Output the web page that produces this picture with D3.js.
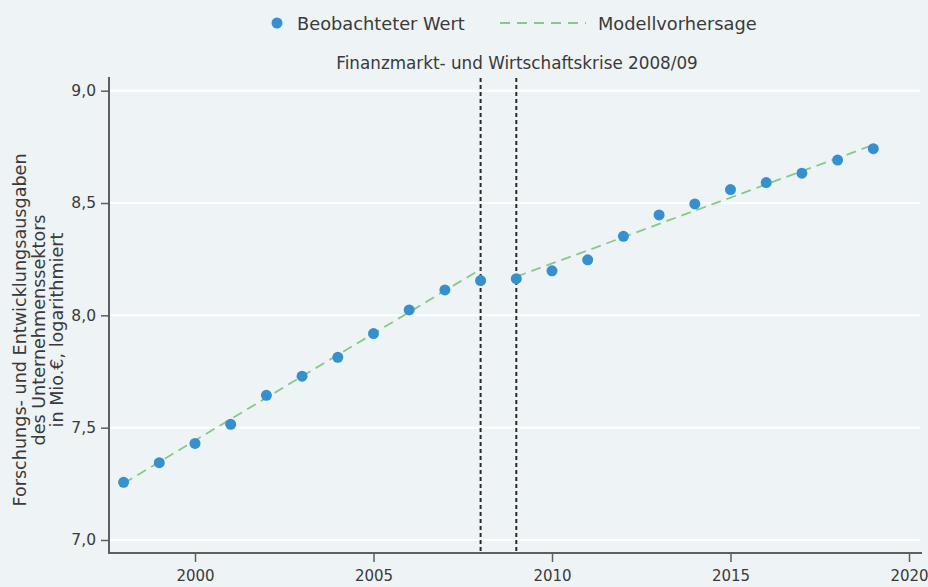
<!DOCTYPE html>
<html>
<head>
<meta charset="utf-8">
<script src="https://cdn.jsdelivr.net/npm/d3@7"></script>
<style>
  html, body { margin: 0; padding: 0; background: #eef3f5; }
  svg { display: block; font-family: "DejaVu Sans", sans-serif; }
</style>
</head>
<body>
<svg id="chart" width="928" height="587"></svg>
<script>
// Beobachtete Werte (Forschungs- und Entwicklungsausgaben, log)
const years = [1998, 1999, 2000, 2001, 2002, 2003, 2004, 2005, 2006, 2007, 2008,
               2009, 2010, 2011, 2012, 2013, 2014, 2015, 2016, 2017, 2018, 2019];
const observed = [7.257, 7.344, 7.430, 7.515, 7.644, 7.729, 7.813, 7.919, 8.024, 8.113, 8.155,
                  8.163, 8.198, 8.247, 8.352, 8.447, 8.496, 8.560, 8.591, 8.633, 8.691, 8.742];

// Modellvorhersage, zwei Abschnitte (vor und nach der Krise)
const modelYearsPre = [1998, 1999, 2000, 2001, 2002, 2003, 2004, 2005, 2006, 2007, 2008];
const modelPre = [7.252, 7.347, 7.443, 7.538, 7.633, 7.729, 7.824, 7.919, 8.014, 8.110, 8.205];
const modelYearsPost = [2009, 2010, 2011, 2012, 2013, 2014, 2015, 2016, 2017, 2018, 2019];
const modelPost = [8.172, 8.231, 8.289, 8.348, 8.407, 8.466, 8.524, 8.583, 8.642, 8.700, 8.759];

// Krisenmarkierungen
const crisisYears = [2008, 2009];
const crisisLabel = "Finanzmarkt- und Wirtschaftskrise 2008/09";

const xTicks = [2000, 2005, 2010, 2015, 2020];
const yTicks = [7.0, 7.5, 8.0, 8.5, 9.0];
const yTitle = ["Forschungs- und Entwicklungsausgaben", "des Unternehmenssektors", "in Mio.€, logarithmiert"];
const legendLabels = ["Beobachteter Wert", "Modellvorhersage"];

const blue = "#3690cd";
const green = "#86c98a";
const textColor = "#3a3a3a";
const axisColor = "#5e5e5e";

const svg = d3.select("#chart");
const plot = { left: 109, right: 922, top: 77, bottom: 553 };

const x = d3.scaleLinear().domain([2000, 2020]).range([195, 909]);
const y = d3.scaleLinear().domain([7, 9]).range([540, 90.7]);

const de = d3.formatLocale({ decimal: ",", thousands: ".", grouping: [3], currency: ["", " €"] });
const fmtY = de.format(".1f");

// Gitternetzlinien
svg.append("g").selectAll("line").data(yTicks).join("line")
  .attr("x1", plot.left + 1).attr("x2", plot.right - 2)
  .attr("y1", d => y(d)).attr("y2", d => y(d))
  .attr("stroke", "#ffffff").attr("stroke-width", 2);

// Achsen
const yAxis = svg.append("g").attr("transform", `translate(${plot.left},0)`)
  .call(d3.axisLeft(y).tickValues(yTicks).tickFormat(fmtY).tickSize(8).tickPadding(5));
const xAxis = svg.append("g").attr("transform", `translate(0,${plot.bottom})`)
  .call(d3.axisBottom(x).tickValues(xTicks).tickFormat(d3.format("d")).tickSize(9).tickPadding(8));

[yAxis, xAxis].forEach(g => {
  g.select(".domain").remove();
  g.selectAll(".tick line").attr("stroke", axisColor).attr("stroke-width", 1.5);
  g.selectAll(".tick text").attr("fill", textColor)
    .style("font-family", "'DejaVu Sans', sans-serif");
});
yAxis.selectAll(".tick text").style("font-size", "15.5px");
xAxis.selectAll(".tick text").style("font-size", "15px");

svg.append("line").attr("x1", plot.left).attr("x2", plot.left)
  .attr("y1", plot.top).attr("y2", plot.bottom + 1)
  .attr("stroke", axisColor).attr("stroke-width", 2);
svg.append("line").attr("x1", plot.left).attr("x2", plot.right)
  .attr("y1", plot.bottom).attr("y2", plot.bottom)
  .attr("stroke", axisColor).attr("stroke-width", 2);

// Krisenlinien
svg.append("g").selectAll("line").data(crisisYears).join("line")
  .attr("x1", d => x(d)).attr("x2", d => x(d))
  .attr("y1", 78).attr("y2", plot.bottom)
  .attr("stroke", "#2b2b2b").attr("stroke-width", 2)
  .attr("stroke-dasharray", "4,3");

svg.append("text")
  .attr("x", 517).attr("y", 69)
  .attr("text-anchor", "middle").attr("fill", textColor)
  .style("font-size", "16.8px").text(crisisLabel);

// Modelllinien
const line = d3.line().x(d => x(d[0])).y(d => y(d[1]));
[[modelYearsPre, modelPre], [modelYearsPost, modelPost]].forEach(([ys, vs]) => {
  svg.append("path")
    .datum(ys.map((yr, i) => [yr, vs[i]]))
    .attr("d", line).attr("fill", "none")
    .attr("stroke", green).attr("stroke-width", 1.8)
    .attr("stroke-dasharray", "10,6");
});

// Beobachtete Punkte
svg.append("g").selectAll("circle").data(years.map((yr, i) => [yr, observed[i]])).join("circle")
  .attr("cx", d => x(d[0])).attr("cy", d => y(d[1])).attr("r", 5.5)
  .attr("fill", blue);

// Y-Achsentitel
const yt = svg.append("text")
  .attr("transform", "translate(0,330) rotate(-90)")
  .attr("text-anchor", "middle").attr("fill", textColor)
  .style("font-size", "17.6px");
yTitle.forEach((t, i) => {
  yt.append("tspan").attr("x", 0).attr("y", 26 + i * 18.6).text(t);
});

// Legende
const legend = svg.append("g");
legend.append("circle").attr("cx", 277).attr("cy", 23).attr("r", 5.5).attr("fill", blue);
legend.append("text").attr("x", 297).attr("y", 29.5).attr("fill", textColor)
  .style("font-size", "17.8px").text(legendLabels[0]);
legend.append("line").attr("x1", 500).attr("x2", 586).attr("y1", 23).attr("y2", 23)
  .attr("stroke", green).attr("stroke-width", 1.8).attr("stroke-dasharray", "10,7");
legend.append("text").attr("x", 598).attr("y", 29.5).attr("fill", textColor)
  .style("font-size", "17.8px").text(legendLabels[1]);
</script>
</body>
</html>
